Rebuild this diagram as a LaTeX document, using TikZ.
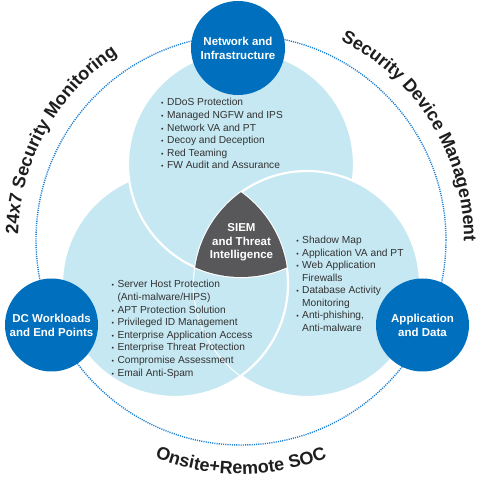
\documentclass[tikz,border=0pt]{standalone}
\usepackage{fontspec}
\setmainfont{Liberation Sans}
\usetikzlibrary{decorations.text}
\definecolor{bluec}{RGB}{0,112,190}
\definecolor{lightc}{RGB}{198,232,242}
\definecolor{darkc}{RGB}{88,88,90}
\definecolor{dotc}{RGB}{25,125,210}
\definecolor{txtc}{RGB}{50,50,50}
\definecolor{outc}{RGB}{30,30,30}
\newcommand\bul{\llap{{\fontsize{7}{7}\selectfont •}\hspace{3.5pt}}}
\newcommand\outfont{\fontsize{18}{18}\selectfont\bfseries\color{outc}}
\begin{document}
\begin{tikzpicture}[x=1pt,y=1pt,
  lcirc/.style={fill=lightc, draw=white, line width=2.2pt},
  bcirc/.style={circle, fill=bluec, minimum size=94pt, inner sep=0pt, text=white,
    font=\fontsize{11.5}{14}\selectfont\bfseries, align=center},
  item/.style={anchor=base west, inner sep=0pt, text=txtc, font=\fontsize{10.2}{12}\selectfont},
  outtext/.style={decorate, decoration={text along path, text align=center, text={#1}}}]
\useasboundingbox (0,0) rectangle (483,479);
\coordinate (O) at (241,239);
\coordinate (ct) at (241,315);
\coordinate (cl) at (175,195);
\coordinate (cr) at (307,195);

% outer dotted ring
\draw[dotc, line width=1.4pt, dash pattern=on 1.1pt off 1.1pt] (O) circle[radius=205pt];

% light circles (cyclic overlap)
\path[lcirc] (cl) circle[radius=113pt];
\path[lcirc] (ct) circle[radius=113pt];
\path[lcirc] (cr) circle[radius=113pt];
\begin{scope}
  \clip (cr) circle[radius=113pt];
  \path[lcirc] (cl) circle[radius=113pt];
\end{scope}
\begin{scope}
  \clip (cl) circle[radius=113pt];
  \clip (cr) circle[radius=113pt];
  \draw[white, line width=2.2pt] (ct) circle[radius=113pt];
\end{scope}
\begin{scope}
  \clip (cl) circle[radius=113pt];
  \clip (ct) circle[radius=113pt];
  \fill[darkc] (cr) circle[radius=113pt];
\end{scope}

% outer texts
\path[outtext={|\outfont|24x7 Security Monitoring}] (O) ++(201:223pt) arc[start angle=201, end angle=101, radius=223pt];
\path[outtext={|\outfont|Security Device Management}] (O) ++(81.5:223pt) arc[start angle=81.5, end angle=-18.5, radius=223pt];
\path[outtext={|\outfont|Onsite+Remote SOC}] (O) ++(230:234pt) arc[start angle=230, end angle=310, radius=234pt];

% blue circles
\node[bcirc] (net) at (238,431) {Network and\\Infrastructure};
\node[bcirc, minimum size=93pt] (dc) at (51.5,154) {DC Workloads\\and End Points};
\node[bcirc, minimum size=93pt] (app) at (422.5,154) {Application\\and Data};
\node[text=white, align=center, inner sep=0pt, font=\fontsize{11.5}{13.7}\selectfont\bfseries] (siem) at (241.5,236.7) {SIEM\\and Threat\\Intelligence};

% lists
\foreach \t [count=\i from 0] in {DDoS Protection, Managed NGFW and IPS, Network VA and PT, Decoy and Deception, Red Teaming, FW Audit and Assurance}
  \node[item, name=nt\i] at (167, 373-12.55*\i) {\bul\t};
\foreach \t [count=\i from 0] in {{\bul Shadow Map}, {\bul Application VA and PT}, {\bul Web Application}, {Firewalls}, {\bul Database Activity}, {Monitoring}, {\bul Anti-phishing,}, {Anti-malware}}
  \node[item, name=ad\i] at (302, 235.4-12.5*\i) {\t};
\foreach \t [count=\i from 0] in {{\bul Server Host Protection}, {(Anti-malware/HIPS)}, {\bul APT Protection Solution}, {\bul Privileged ID Management}, {\bul Enterprise Application Access}, {\bul Enterprise Threat Protection}, {\bul Compromise Assessment}, {\bul Email Anti-Spam}}
  \node[item, name=dl\i] at (117.3, 191.1-12.6*\i) {\t};
\end{tikzpicture}
\end{document}
